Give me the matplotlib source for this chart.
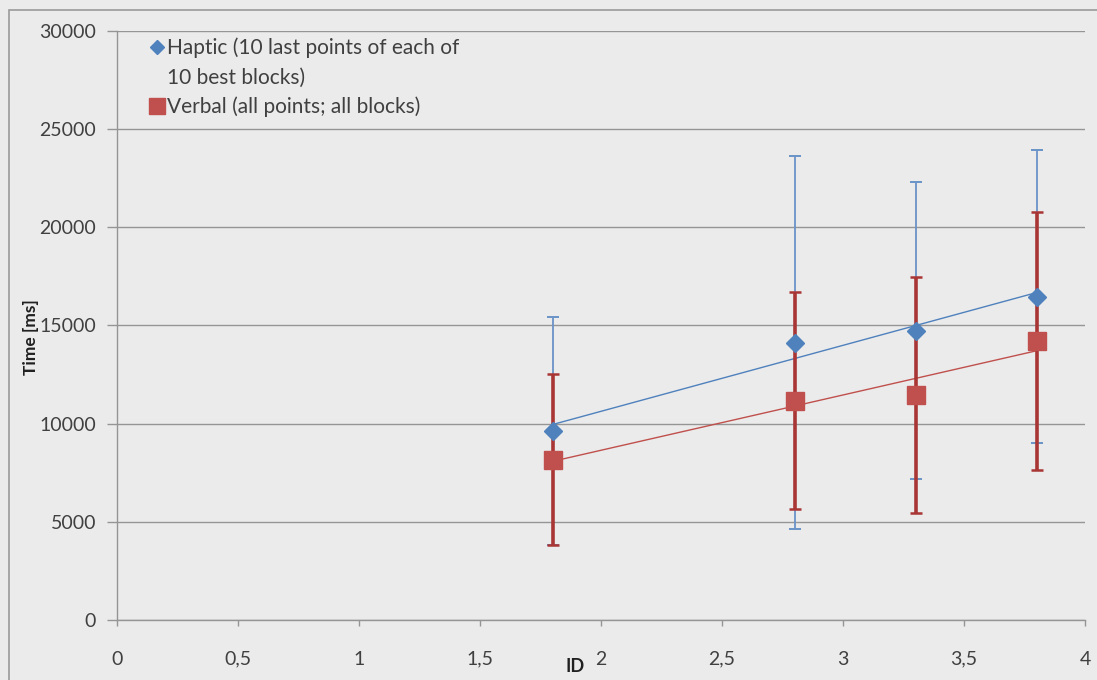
import numpy as np
import matplotlib
matplotlib.use("Agg")
import matplotlib.pyplot as plt
from matplotlib.lines import Line2D
from matplotlib.patches import Rectangle

plt.rcParams['font.family'] = ['Lato', 'DejaVu Sans']

# data
ids = [1.8, 2.8, 3.3, 3.8]
haptic = [9620, 14120, 14740, 16470]
haptic_err = [5790, 9500, 7550, 7460]
verbal = [8160, 11160, 11470, 14210]
verbal_err = [4350, 5530, 6000, 6560]

# haptic legend label wraps over two lines, marker sits on the first one
haptic_label = ["Haptic (10 last points of each of", "10 best blocks)"]
verbal_label = "Verbal (all points; all blocks)"

blue = "#4F81BD"
red = "#C0504D"
bg = "#ebebeb"
gridc = "#959595"
textc = "#404040"

fig = plt.figure(figsize=(10.97, 6.8), dpi=100, facecolor=bg)
ax = fig.add_axes([117/1097, 1-620/680, (1085-117)/1097, (620-31)/680])
ax.set_facecolor(bg)

# outer chart border
fig.patches.append(Rectangle((9/1097, -0.05), 1.1, 1-10/680+0.05, transform=fig.transFigure,
                             fill=False, edgecolor="#9a9a9a", lw=1.2))

# linear trendlines (excel style)
xs = np.array([min(ids), max(ids)])
for ys, col in [(haptic, blue), (verbal, red)]:
    k, b = np.polyfit(ids, ys, 1)
    ax.plot(xs, k*xs + b, color=col, lw=1.0, zorder=3)

ax.errorbar(ids, haptic, yerr=haptic_err, fmt='none', ecolor="#6a93c8", elinewidth=1.3,
            capsize=4, capthick=1.4, zorder=4)
ax.errorbar(ids, verbal, yerr=verbal_err, fmt='none', ecolor="#a93535", elinewidth=2.6,
            capsize=4.5, capthick=1.8, zorder=5)
ax.plot(ids, haptic, linestyle='none', marker='D', markersize=9, color=blue, zorder=6)
ax.plot(ids, verbal, linestyle='none', marker='s', markersize=13, color=red, zorder=7)

ax.set_xlim(0, 4)
ax.set_ylim(0, 30000)
ax.set_xticks(np.arange(0, 4.01, 0.5))
ax.set_xticklabels(["0", "0,5", "1", "1,5", "2", "2,5", "3", "3,5", "4"])
ax.set_yticks(np.arange(0, 30001, 5000))
ax.yaxis.grid(True, color=gridc, lw=1)
ax.set_axisbelow(True)
for s in ["top", "right"]:
    ax.spines[s].set_visible(False)
for s in ["left", "bottom"]:
    ax.spines[s].set_color(gridc)
    ax.spines[s].set_linewidth(1)
ax.tick_params(axis='both', colors=gridc, labelcolor=textc, labelsize=14, width=1)
ax.tick_params(axis='y', length=7, pad=8)
ax.tick_params(axis='x', length=4, pad=18)

fig.text(31/1097, 1-337/680, "Time [ms]", rotation=90, ha='center', va='center',
         fontsize=12.5, fontweight='bold', color="#202020")
fig.text(575/1097, 1-667/680, "ID", ha='center', va='center',
         fontsize=13, fontweight='bold', color="#202020")

handles = [Line2D([], [], linestyle='none', marker='D', markersize=7, color=blue),
           Line2D([], [], linestyle='none', marker='none'),
           Line2D([], [], linestyle='none', marker='s', markersize=12, color=red)]
labels = haptic_label + [verbal_label]
leg = ax.legend(handles, labels, loc='upper left',
                bbox_to_anchor=(139/1097, 1-27/680), bbox_transform=fig.transFigure,
                frameon=False, fontsize=15, handlelength=0.7, handletextpad=0.15,
                labelspacing=0.45, labelcolor=textc, borderpad=0)

fig.savefig("out.png", dpi=100, facecolor=bg)
